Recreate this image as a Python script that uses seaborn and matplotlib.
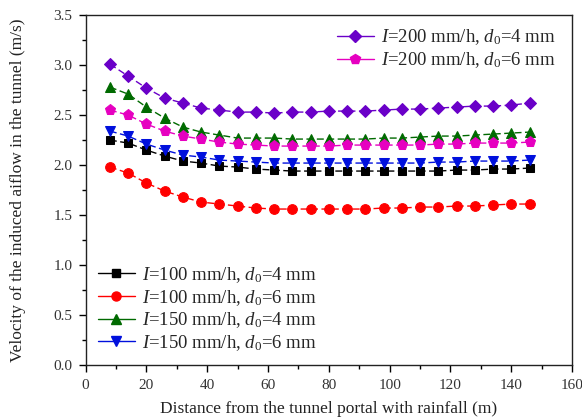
import numpy as np
import pandas as pd
import matplotlib
matplotlib.use("Agg")
import matplotlib.pyplot as plt
from matplotlib.lines import Line2D
from matplotlib.ticker import MultipleLocator, FormatStrFormatter
import seaborn as sns

# Measurement stations along the tunnel (m)
distance = [8, 14, 20, 26, 32, 38, 44, 50, 56, 62, 68, 74,
            80, 86, 92, 98, 104, 110, 116, 122, 128, 134, 140, 146]

# Induced airflow velocity (m/s) for each rainfall case
v_i100_d4 = [2.25, 2.22, 2.15, 2.09, 2.04, 2.02, 1.99, 1.98, 1.96, 1.95, 1.94, 1.94,
             1.94, 1.94, 1.94, 1.94, 1.94, 1.94, 1.94, 1.95, 1.95, 1.96, 1.96, 1.97]
v_i100_d6 = [1.98, 1.92, 1.82, 1.74, 1.68, 1.63, 1.61, 1.59, 1.57, 1.56, 1.56, 1.56,
             1.56, 1.56, 1.56, 1.57, 1.57, 1.58, 1.58, 1.59, 1.59, 1.60, 1.61, 1.61]
v_i150_d4 = [2.78, 2.71, 2.58, 2.47, 2.38, 2.33, 2.30, 2.27, 2.27, 2.27, 2.26, 2.26,
             2.26, 2.26, 2.26, 2.27, 2.27, 2.28, 2.29, 2.29, 2.30, 2.31, 2.32, 2.33]
v_i150_d6 = [2.34, 2.29, 2.21, 2.15, 2.10, 2.08, 2.05, 2.04, 2.03, 2.02, 2.02, 2.02,
             2.02, 2.02, 2.02, 2.02, 2.02, 2.02, 2.03, 2.03, 2.04, 2.04, 2.04, 2.05]
v_i200_d4 = [3.01, 2.89, 2.77, 2.67, 2.62, 2.57, 2.55, 2.53, 2.53, 2.52, 2.53, 2.53,
             2.54, 2.54, 2.54, 2.55, 2.56, 2.56, 2.57, 2.58, 2.59, 2.59, 2.60, 2.62]
v_i200_d6 = [2.55, 2.50, 2.41, 2.34, 2.29, 2.26, 2.23, 2.21, 2.20, 2.19, 2.19, 2.19,
             2.19, 2.20, 2.20, 2.20, 2.20, 2.20, 2.21, 2.21, 2.22, 2.22, 2.22, 2.23]

series = [
    (r"$I$=100 mm/h, $d_0$=4 mm", v_i100_d4, "#000000", "s", 6.0),
    (r"$I$=100 mm/h, $d_0$=6 mm", v_i100_d6, "#ff0000", "o", 7.0),
    (r"$I$=150 mm/h, $d_0$=4 mm", v_i150_d4, "#006a00", "^", 7.5),
    (r"$I$=150 mm/h, $d_0$=6 mm", v_i150_d6, "#0010dd", "v", 7.5),
    (r"$I$=200 mm/h, $d_0$=4 mm", v_i200_d4, "#6a00c8", "D", 6.5),
    (r"$I$=200 mm/h, $d_0$=6 mm", v_i200_d6, "#e600c0", "p", 8.0),
]

sns.set_theme(style="white")
plt.rcParams["font.family"] = ["Liberation Serif", "DejaVu Serif"]
plt.rcParams["mathtext.fontset"] = "custom"
plt.rcParams["mathtext.rm"] = "Liberation Serif"
plt.rcParams["mathtext.it"] = "Liberation Serif:italic"

fig = plt.figure(figsize=(5.82, 4.20), dpi=100)
ax = fig.add_axes([0.147, 0.131, 0.836, 0.833])

handles = {}
for label, vals, color, marker, ms in series:
    df = pd.DataFrame({"x": distance, "y": vals})
    sns.lineplot(data=df, x="x", y="y", ax=ax, color=color, marker=marker,
                 markersize=ms, markeredgecolor=color, linewidth=1.0,
                 linestyle=(0, (5, 2.5)), legend=False)
    handles[label] = Line2D([], [], color=color, marker=marker, markersize=ms - 0.5,
                            markeredgecolor=color, linewidth=1.0, linestyle="-")

ax.set_xlim(0, 160)
ax.set_ylim(0, 3.5)
ax.xaxis.set_major_locator(MultipleLocator(20))
ax.xaxis.set_minor_locator(MultipleLocator(10))
ax.yaxis.set_major_locator(MultipleLocator(0.5))
ax.yaxis.set_minor_locator(MultipleLocator(0.25))
ax.yaxis.set_major_formatter(FormatStrFormatter("%.1f"))
ax.tick_params(axis="both", which="major", direction="out", length=5, width=1,
               labelsize=11, color="black", labelcolor="#333333",
               bottom=True, left=True)
ax.tick_params(axis="x", which="major", pad=5)
ax.tick_params(axis="y", which="major", pad=4.5)
ax.tick_params(axis="both", which="minor", direction="out", length=3, width=1,
               color="black", bottom=True, left=True)
for side in ax.spines.values():
    side.set_color("#222222")
    side.set_linewidth(1.0)

ax.set_xlabel("Distance from the tunnel portal with rainfall (m)", fontsize=12.5,
              color="#222222")
ax.set_ylabel("Velocity of the induced aiflow in the tunnel (m/s)", fontsize=12.5,
              color="#222222")
ax.xaxis.set_label_coords(0.5, -0.104)
ax.yaxis.set_label_coords(-0.122, 0.5)

labels_top = [s[0] for s in series[4:]]
labels_bottom = [s[0] for s in series[:4]]
leg_kw = dict(frameon=False, fontsize=13.5, handlelength=2.0, handletextpad=0.38,
              labelspacing=0.15)
leg1 = ax.legend([handles[l] for l in labels_top], labels_top, loc="upper right",
                 bbox_to_anchor=(1.0, 1.01), borderaxespad=0.45, **leg_kw)
ax.add_artist(leg1)
ax.legend([handles[l] for l in labels_bottom], labels_bottom, loc="lower left",
          borderaxespad=0.25, **leg_kw)

fig.savefig("out.png", dpi=100)
